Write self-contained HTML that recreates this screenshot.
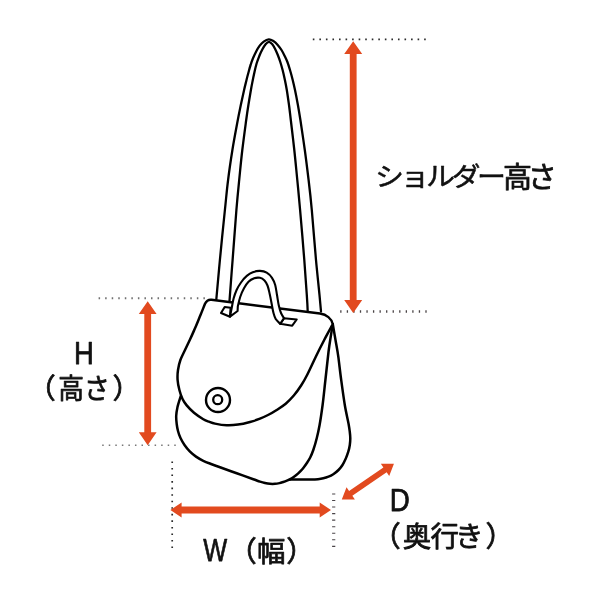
<!DOCTYPE html>
<html lang="ja">
<head>
<meta charset="utf-8">
<style>
html,body{margin:0;padding:0;background:#fff;}
body{width:600px;height:600px;overflow:hidden;position:relative;font-family:"Liberation Sans","Noto Sans CJK JP",sans-serif;}
svg{position:absolute;left:0;top:0;display:block;filter:blur(0.35px);}
.bag path,.bag circle,.bag polygon{fill:#fff;stroke:#000;stroke-width:2.5;stroke-linejoin:round;stroke-linecap:round;}
.nofill{fill:none !important;}
.bag path.strap{stroke-width:2.3;}
.bag .hd{stroke-width:2.1;}
text{font-family:"Liberation Sans","Noto Sans CJK JP",sans-serif;fill:#111;}
.jp{stroke:#111;stroke-width:0.75;stroke-linejoin:round;font-weight:400;}
.lat{stroke:#111;stroke-width:0.75;stroke-linejoin:round;}
</style>
</head>
<body>
<svg width="600" height="600" viewBox="0 0 600 600">
<rect width="600" height="600" fill="#fff"/>
<!-- dotted guides -->
<g fill="none">
<line x1="312.800" y1="39.400" x2="427" y2="39.400" stroke="#2a2a2a" stroke-width="1.700" stroke-dasharray="1.6 4.95"/>
<line x1="340.200" y1="311.500" x2="427" y2="311.500" stroke="#4a4446" stroke-width="2.400" stroke-dasharray="1.3 5.25"/>
<line x1="98.600" y1="298.200" x2="208" y2="298.200" stroke="#707070" stroke-width="1.900" stroke-dasharray="1.5 5.05"/>
<line x1="102.200" y1="445.200" x2="178" y2="445.200" stroke="#777" stroke-width="1.500" stroke-dasharray="1.5 5.05"/>
<line x1="172.200" y1="461.400" x2="172.200" y2="548" stroke="#2a2a2a" stroke-width="1.700" stroke-dasharray="1.6 4.95"/>
<line x1="333.700" y1="493.400" x2="333.700" y2="548" stroke="#4a4448" stroke-width="3.200" stroke-dasharray="1.1 5.45"/>
</g>
<!-- arrows -->
<g fill="#e24a1f">
<polygon points="353.200,41.300 362.200,54 356.600,54 356.600,300 362.200,300 353.200,312.900 344.200,300 349.800,300 349.800,54 344.200,54"/>
<polygon points="147.700,301.300 156.600,314 151.100,314 151.100,432.200 156.600,432.200 147.700,445.200 138.800,432.200 144.300,432.200 144.300,314 138.800,314"/>
<polygon points="170.400,510 181.600,502.400 181.600,506.600 319.700,506.600 319.700,502.400 331,510 319.700,517.600 319.700,513.400 181.600,513.400 181.600,517.600"/>
<polygon transform="translate(341.800,499.500) rotate(-34.420)" points="0,0 10.800,-7.400 10.800,-2.900 52.400,-2.900 52.400,-7.400 63.200,0 52.400,7.400 52.400,2.900 10.800,2.900 10.800,7.400"/>
</g>
<!-- bag -->
<g class="bag">
<path class="nofill strap" d="M216.3,299.5 C216.9,292.9 218.5,274.9 219.9,260 C221.3,245.1 223.5,223.3 224.9,210 C226.3,196.7 226.8,190 228.1,180 C229.3,170 230.8,160 232.4,150 C234,140 236.4,127.5 237.8,120 C239.2,112.5 239.8,110 240.8,105 C241.9,100 243.2,94.2 244.1,90 C245,85.8 245.8,83 246.5,80 C247.2,77 247.9,74.5 248.6,72 C249.3,69.5 249.8,67.3 250.6,65 C251.3,62.7 252.1,60.3 253.1,58 C254.1,55.7 255.2,53.3 256.3,51.2 C257.4,49.1 258.5,47.2 259.7,45.6 C260.9,44 262.2,42.7 263.7,41.6 C265.2,40.5 267.1,39.4 268.8,39.3 C270.5,39.2 272.2,40.3 273.7,41.2 C275.2,42.1 276.4,43.4 277.7,44.9 C279,46.4 280.3,48.1 281.5,50 C282.7,51.9 283.7,54 284.7,56 C285.7,58 286.5,59.7 287.4,62 C288.3,64.3 289.1,67 290,70 C290.9,73 291.9,76.7 292.7,80 C293.5,83.3 294.1,85.8 295,90 C295.9,94.2 297,100 297.9,105 C298.8,110 299.2,112.5 300.4,120 C301.5,127.5 303.4,140 304.8,150 C306.2,160 307.4,170 308.6,180 C309.8,190 310.6,196.7 311.8,210 C313,223.3 314.7,245.8 316,260 C317.3,274.2 318.7,286.4 319.5,295 C320.3,303.6 320.8,308.8 321,311.5"/>
<path class="nofill strap" d="M229.5,301 C230,294.2 231.4,275.2 232.6,260 C233.8,244.8 235.3,223.3 236.4,210 C237.5,196.7 238.2,190 239.2,180 C240.2,170 241.1,160 242.3,150 C243.5,140 245.2,127.5 246.2,120 C247.2,112.5 247.6,110 248.4,105 C249.2,100 250.2,94.2 250.9,90 C251.6,85.8 252.2,83 252.8,80 C253.4,77 253.9,74.8 254.5,72 C255.1,69.2 255.8,66.2 256.6,63.5 C257.4,60.8 258.6,57.8 259.5,55.5 C260.4,53.2 261.3,51.4 262.3,49.5 C263.3,47.6 264.5,45.5 265.6,44.2 C266.7,42.9 267.9,41.8 269,41.8 C270.1,41.8 271.1,42.9 272.1,44 C273.1,45.1 274.1,46.9 275,48.7 C275.9,50.5 276.8,52.5 277.7,54.7 C278.6,56.9 279.5,59.5 280.3,62 C281.1,64.5 281.8,67 282.6,70 C283.4,73 284.2,76.7 284.9,80 C285.6,83.3 286.1,85.8 286.8,90 C287.5,94.2 288.3,100 289,105 C289.7,110 289.9,112.5 290.8,120 C291.7,127.5 293.2,140 294.3,150 C295.4,160 296.3,170 297.3,180 C298.3,190 298.9,196.7 300.1,210 C301.3,223.3 303.2,245.8 304.3,260 C305.4,274.2 306.2,286.4 306.8,295 C307.4,303.6 307.6,308.8 307.7,311.5"/>
<path d="M332.8,324.2 C333.2,326.8 334.6,334.6 335.5,340 C336.4,345.4 337.4,350 338.3,356.7 C339.2,363.4 340.1,371.9 341.2,380 C342.3,388.1 343.6,397.7 344.8,405 C346,412.3 347.8,419.5 348.6,424 C349.4,428.5 349.5,429.6 349.8,432 C350.1,434.4 350.3,436.3 350.3,438.5 C350.3,440.7 350.1,442.8 349.8,445 C349.5,447.2 349,449.4 348.3,451.7 C347.6,453.9 346.8,456.3 345.8,458.5 C344.8,460.7 343.7,463.1 342.5,465 C341.3,466.9 340,468.5 338.5,470 C337,471.5 335,473.1 333.3,474.2 C331.6,475.3 330.2,476 328.5,476.7 C326.8,477.4 325.1,477.9 323.3,478.3 C321.6,478.7 319.7,479 318,479.2 C316.3,479.4 314.1,479.4 313.3,479.5 L290,479.5 L332.8,324.2 Z"/>
<path d="M180.6,396.5 C180.1,398.2 178.2,403.8 177.5,407 C176.8,410.2 176.3,413.2 176.2,416 C176.1,418.8 176.4,421.5 176.7,424 C177,426.5 177.4,428.7 178,431 C178.6,433.3 179.4,435.7 180.5,438 C181.6,440.3 182.9,442.7 184.5,445 C186.1,447.3 188.1,449.8 190,451.7 C191.9,453.6 193.8,455.1 196,456.6 C198.2,458.1 200.8,459.6 203.3,460.8 C205.8,462 208.2,462.9 211,464 C213.8,465.1 215.7,465.8 220,467.3 C224.3,468.9 231.1,471.3 236.7,473.3 C242.2,475.3 249.4,477.8 253.3,479.2 C257.2,480.6 258.1,481 260,481.6 C261.9,482.2 263.3,482.6 265,483 C266.7,483.4 268.3,483.7 270,483.8 C271.7,483.9 273.4,483.9 275,483.8 C276.6,483.7 278.1,483.4 279.5,483.1 C280.9,482.8 282,482.4 283.3,482 C284.6,481.6 286.1,481 287.5,480.4 C288.9,479.8 290.3,479.1 291.7,478.3 C293.1,477.5 294.6,476.4 296,475.3 C297.4,474.2 298.8,473 300,471.7 C301.2,470.4 302.4,469.1 303.5,467.7 C304.6,466.3 305.6,465 306.7,463.3 C307.8,461.6 309.1,459.7 310.2,457.5 C311.3,455.3 312.2,453.2 313.3,450 C314.4,446.8 315.8,442.2 316.8,438 C317.9,433.8 318.6,430.5 319.6,425 C320.6,419.5 321.6,412.5 322.6,405 C323.6,397.5 324.4,388.8 325.4,380 C326.4,371.2 327.6,359.5 328.5,352 C329.4,344.5 330.3,339.6 331,335 C331.7,330.4 332.5,326 332.8,324.2 Z"/>
<path d="M332.8,324.2 C331.4,326.8 327,334.6 324.2,340 C321.4,345.4 318.6,350.9 315.8,356.7 C313,362.5 309.6,370.2 307.1,375 C304.7,379.8 303.3,382.1 301.1,385.5 C298.9,388.9 296.4,392.5 293.8,395.5 C291.2,398.5 288.6,401.3 285.7,403.7 C282.8,406.1 279.6,408.1 276.7,410 C273.8,411.9 270.8,413.6 268,415 C265.2,416.4 263,417.5 260,418.7 C257,419.9 253.7,421 250,422 C246.3,423 241.9,424.1 238,424.6 C234.1,425.2 230.5,425.5 226.7,425.3 C222.9,425.1 217.9,424.2 215,423.6 C212.1,423 210.9,422.4 209,421.7 C207.1,421 205.8,420.7 203.3,419.2 C200.8,417.7 196.8,415 194,412.7 C191.2,410.4 188.6,407.7 186.7,405.4 C184.8,403.1 183.6,401.4 182.4,398.8 C181.2,396.2 180.2,393.1 179.4,390 C178.6,386.9 177.8,383.3 177.6,380 C177.4,376.7 177.5,373.3 178,370 C178.5,366.7 179.2,363.3 180.4,360 C181.6,356.7 183.4,353.4 185,350 C186.6,346.6 188.3,343.1 190,339.5 C191.7,335.9 193.2,332.4 195,328.3 C196.8,324.2 198.8,319.1 200.5,315 C202.2,310.9 204.2,305.7 205,303.8 C206.6,300.5 208.4,299.4 211.5,299.8 L320,313.6 C326.5,314.6 331.5,318.7 332.8,324.2 Z"/>
<circle cx="218" cy="400" r="12" style="stroke-width:2.4"/>
<circle cx="217.700" cy="399.700" r="4.500" style="stroke-width:2.3"/>
<polygon class="hd" points="224.7,307 230.6,307.8 230,316.7 221,313"/>
<polygon class="hd" points="284,318.2 296.7,319.5 292.2,325.7 280.2,323.8"/>
<path class="hd" d="M230,316.7 C230.3,315.2 231.2,310.5 231.8,307.5 C232.4,304.5 232.8,301.4 233.6,298.5 C234.4,295.6 235.4,292.7 236.6,290 C237.8,287.3 239.3,284.9 241,282.5 C242.7,280.1 244.8,277.6 246.8,275.9 C248.8,274.2 250.6,273 252.8,272.2 C255,271.4 257.7,270.8 260,270.9 C262.3,271 264.7,271.5 266.7,272.7 C268.7,273.9 270.6,275.8 272,277.8 C273.4,279.9 274.4,282.1 275.2,285 C276,287.9 276.4,291.6 277,295 C277.6,298.4 278.1,302.5 278.8,305.5 C279.5,308.5 280.1,310.9 281,313 C281.9,315.1 283.5,317.3 284,318.2 L280.2,323.8 C279.4,323 276.8,320.8 275.7,319 C274.6,317.2 274.2,315.5 273.5,313 C272.8,310.5 272.3,307.2 271.7,304 C271.1,300.8 270.4,297.1 269.7,294 C269,290.9 268.4,287.8 267.5,285.5 C266.6,283.2 265.8,281.7 264.5,280.4 C263.2,279.1 261.7,278.1 260,277.8 C258.3,277.5 256.1,277.6 254.2,278.3 C252.3,279 250.2,280.1 248.5,281.8 C246.8,283.5 245.4,285.8 244,288.3 C242.6,290.8 241.2,294 240.2,297 C239.2,300 238.2,304.8 237.8,306.4 L237.6,311 Z"/>
</g>
<!-- labels -->
<g class="lbl">
<text y="188"><tspan class="jp" style="stroke-width:0.5" x="375" y="185.700" font-size="26.100" letter-spacing="-3.150" textLength="127.500" lengthAdjust="spacingAndGlyphs">ショルダー</tspan><tspan class="jp" x="503 527.800" y="188" font-size="29">高さ</tspan></text>
<text class="lat" x="74.100" y="363.700" font-size="30.500" textLength="19.820" lengthAdjust="spacingAndGlyphs">H</text>
<text class="jp" y="399.400" font-size="28"><tspan x="27.800">（</tspan><tspan x="58.200" textLength="51.500" lengthAdjust="spacingAndGlyphs">高さ</tspan><tspan x="112.600">）</tspan></text>
<text y="562"><tspan class="lat" x="203.350" y="560.700" font-size="31.300" textLength="23.930" lengthAdjust="spacingAndGlyphs">W</tspan><tspan class="jp" x="228.2 257.1 286.3" y="562" font-size="28.500">（幅）</tspan></text>
<text class="lat" x="389.700" y="510.800" font-size="30.800" textLength="20.010" lengthAdjust="spacingAndGlyphs">D</text>
<text class="jp" x="372.2 402.8 430.6 455 485.400" y="546.800" font-size="28.500">（奥行き）</text>
</g>
</svg>
</body>
</html>
